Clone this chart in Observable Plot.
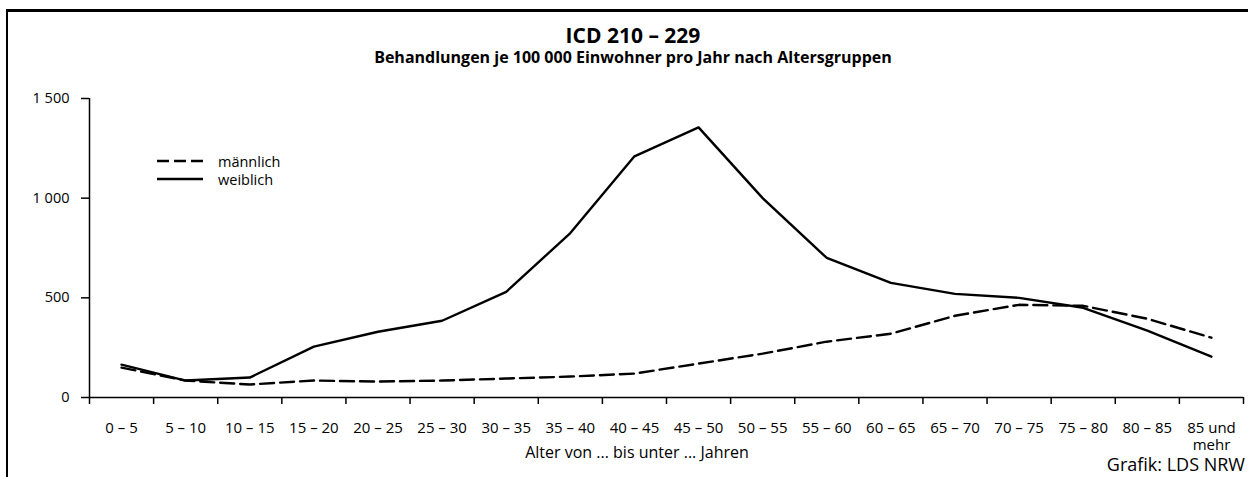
<!DOCTYPE html>
<html>
<head>
<meta charset="utf-8">
<script src="https://cdn.jsdelivr.net/npm/d3@7"></script>
<script src="https://cdn.jsdelivr.net/npm/@observablehq/plot@0.6"></script>
<style>
  html, body { margin: 0; padding: 0; background: #fff; }
  body { width: 1248px; height: 477px; overflow: hidden; font-family: "Open Sans", "Noto Sans", sans-serif; color: #000; }
  #wrap { position: relative; width: 1248px; height: 477px; }
  #frameTop { position: absolute; left: 6px; top: 9px; width: 1242px; height: 0; border-top: 3px solid #000; }
  #frameLeft { position: absolute; left: 6px; top: 9px; width: 0; height: 468px; border-left: 2px solid #000; }
  #title { position: absolute; left: 0; top: 24px; width: 1266px; text-align: center; font-weight: 700; font-size: 21px; line-height: 22px; }
  #subtitle { position: absolute; left: 0; top: 49px; width: 1266px; text-align: center; font-weight: 700; font-size: 16px; line-height: 16px; }
  #chart { position: absolute; left: 0; top: 70px; }
  #legend { position: absolute; left: 157px; top: 152px; font-size: 14.5px; line-height: 18px; }
  #legend div { display: flex; align-items: center; height: 18px; }
  #legend span { line-height: 15px; }
  #legend svg { margin-right: 15px; }
  #xlabel { position: absolute; left: 0; top: 442px; width: 1274px; text-align: center; font-size: 16px; line-height: 20px; }
  #caption { position: absolute; right: 3px; top: 455px; font-size: 18px; line-height: 18px; }
</style>
</head>
<body>
<div id="wrap">
  <div id="frameTop"></div>
  <div id="frameLeft"></div>
  <div id="title"></div>
  <div id="subtitle"></div>
  <div id="chart"></div>
  <div id="legend"></div>
  <div id="xlabel"></div>
  <div id="caption"></div>
</div>
<script>
const titleText = "ICD 210 – 229";
const subtitleText = "Behandlungen je 100 000 Einwohner pro Jahr nach Altersgruppen";
const xLabelText = "Alter von ... bis unter ... Jahren";
const captionText = "Grafik: LDS NRW";

const categories = ["0 – 5","5 – 10","10 – 15","15 – 20","20 – 25","25 – 30","30 – 35","35 – 40","40 – 45","45 – 50","50 – 55","55 – 60","60 – 65","65 – 70","70 – 75","75 – 80","80 – 85","85 und\nmehr"];
const maennlich = [150, 85, 65, 85, 80, 85, 95, 105, 120, 170, 220, 280, 320, 410, 465, 460, 395, 300];
const weiblich  = [165, 85, 100, 255, 330, 385, 530, 825, 1210, 1355, 1000, 700, 575, 520, 500, 450, 335, 205];
const seriesNames = ["männlich", "weiblich"];
const yTicks = [0, 500, 1000, 1500];

document.getElementById("title").textContent = titleText;
document.getElementById("subtitle").textContent = subtitleText;
document.getElementById("xlabel").textContent = xLabelText;
document.getElementById("caption").textContent = captionText;

const catRows = categories.map((c, i) => ({i: i + 0.5, cat: c}));
const maleRows = categories.map((c, i) => ({i: i + 0.5, value: maennlich[i]}));
const femaleRows = categories.map((c, i) => ({i: i + 0.5, value: weiblich[i]}));
const boundaries = d3.range(categories.length + 1);

const fmt = d => d3.format(",")(d).replace(/,/g, " ");

const plot = Plot.plot({
  width: 1248,
  height: 407,
  marginLeft: 89,
  marginRight: 5,
  marginTop: 28,
  marginBottom: 80,
  style: {fontFamily: "'Open Sans', 'Noto Sans', sans-serif", fontSize: "14.5px", color: "#000", background: "transparent"},
  x: {type: "linear", domain: [0, categories.length], axis: null},
  y: {type: "linear", domain: [0, 1500], axis: null},
  marks: [
    Plot.axisY({ticks: yTicks, tickFormat: fmt, tickSize: 8, tickPadding: 12, label: null, fontSize: 14.5, strokeWidth: 1.5}),
    Plot.ruleX([0], {y1: 0, y2: 1500, stroke: "#000", strokeWidth: 1.5}),
    Plot.ruleY([0], {stroke: "#000", strokeWidth: 1.5}),
    Plot.axisX({ticks: boundaries, tickFormat: () => "", tickSize: 7, label: null, strokeWidth: 1.5}),
    Plot.text(catRows, {x: "i", y: () => 0, text: "cat", dy: 23, fontSize: 15, lineHeight: 1.15, textAnchor: "middle", lineAnchor: "top"}),
    Plot.line(maleRows, {x: "i", y: "value", stroke: "#000", strokeWidth: 2.4, strokeDasharray: "14,6"}),
    Plot.line(femaleRows, {x: "i", y: "value", stroke: "#000", strokeWidth: 2.4})
  ]
});
document.getElementById("chart").appendChild(plot);

const legend = document.getElementById("legend");
seriesNames.forEach((name, k) => {
  const row = document.createElement("div");
  const dash = k === 0 ? 'stroke-dasharray="12,5"' : "";
  row.innerHTML = `<svg width="46" height="6"><line x1="0" x2="46" y1="3" y2="3" stroke="#000" stroke-width="2.4" ${dash}/></svg><span>${name}</span>`;
  legend.appendChild(row);
});
</script>
</body>
</html>
